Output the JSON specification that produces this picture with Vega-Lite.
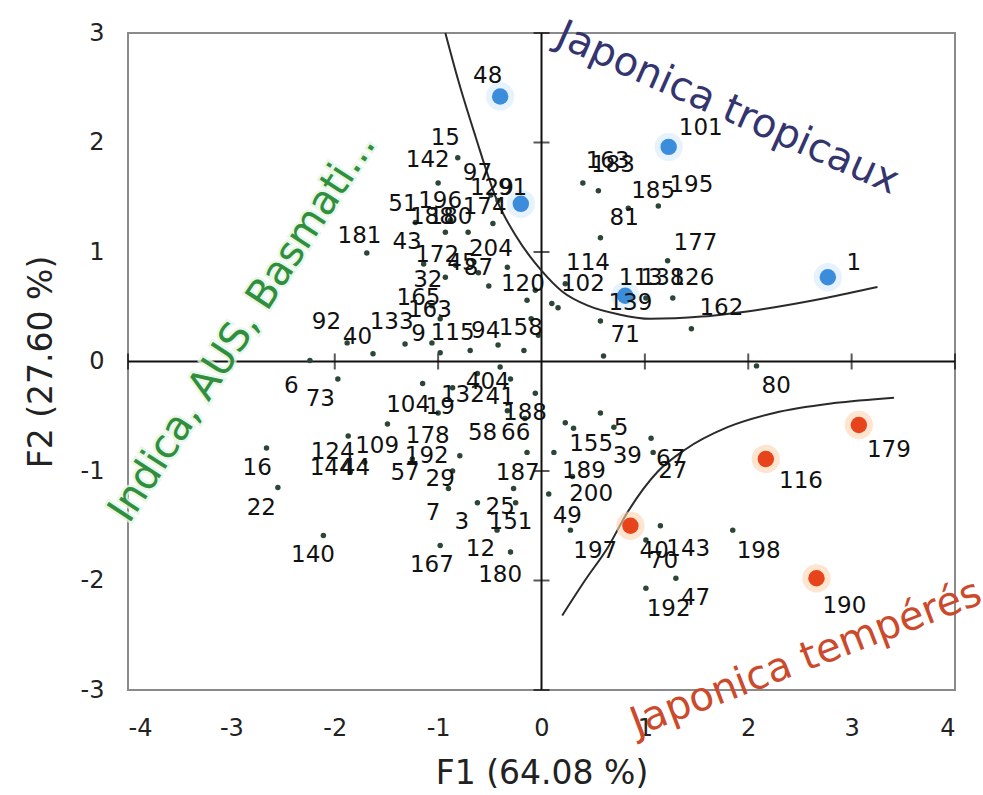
{
  "$schema": "https://vega.github.io/schema/vega-lite/v6.json",
  "autosize": {"type": "none"},
  "width": 827,
  "height": 657,
  "padding": {"left": 128, "top": 33, "right": 28, "bottom": 105},
  "background": "white",
  "config": {
    "view": {"stroke": "#8a8a8a", "strokeWidth": 2},
    "text": {"font": "DejaVu Sans"}
  },
  "datasets": {
    "axes": [
      {"x": -4, "x2": 4, "y": 0, "y2": 0},
      {"x": 0, "x2": 0, "y": -3, "y2": 3}
    ],
    "xt": [{"x": -4, "y": 0}, {"x": -3, "y": 0}, {"x": -2, "y": 0}, {"x": -1, "y": 0}, {"x": 1, "y": 0}, {"x": 2, "y": 0}, {"x": 3, "y": 0}, {"x": 4, "y": 0}],
    "yt": [{"x": 0, "y": -3}, {"x": 0, "y": -2}, {"x": 0, "y": -1}, {"x": 0, "y": 1}, {"x": 0, "y": 2}, {"x": 0, "y": 3}],
    "curves": [
      {"c": "a", "k": 1, "x": -0.93, "y": 3.0},
      {"c": "a", "k": 2, "x": -0.80, "y": 2.55},
      {"c": "a", "k": 3, "x": -0.64, "y": 2.06},
      {"c": "a", "k": 4, "x": -0.43, "y": 1.47},
      {"c": "a", "k": 5, "x": -0.25, "y": 1.15},
      {"c": "a", "k": 6, "x": 0.0, "y": 0.83},
      {"c": "a", "k": 7, "x": 0.20, "y": 0.64},
      {"c": "a", "k": 8, "x": 0.45, "y": 0.51},
      {"c": "a", "k": 9, "x": 0.75, "y": 0.43},
      {"c": "a", "k": 10, "x": 1.05, "y": 0.39},
      {"c": "a", "k": 11, "x": 1.55, "y": 0.41},
      {"c": "a", "k": 12, "x": 2.15, "y": 0.48},
      {"c": "a", "k": 13, "x": 2.75, "y": 0.58},
      {"c": "a", "k": 14, "x": 3.25, "y": 0.68},
      {"c": "b", "k": 1, "x": 0.20, "y": -2.32},
      {"c": "b", "k": 2, "x": 0.42, "y": -2.0},
      {"c": "b", "k": 3, "x": 0.64, "y": -1.70},
      {"c": "b", "k": 4, "x": 0.83, "y": -1.38},
      {"c": "b", "k": 5, "x": 1.13, "y": -1.00},
      {"c": "b", "k": 6, "x": 1.38, "y": -0.81},
      {"c": "b", "k": 7, "x": 1.80, "y": -0.60},
      {"c": "b", "k": 8, "x": 2.25, "y": -0.47},
      {"c": "b", "k": 9, "x": 2.83, "y": -0.38},
      {"c": "b", "k": 10, "x": 3.41, "y": -0.33}
    ],
    "pts": [
      {"id": "15", "x": -0.81, "y": 1.86, "lx": -0.93, "ly": 2.04, "g": "o"},
      {"id": "142", "x": -1.00, "y": 1.63, "lx": -1.10, "ly": 1.84, "g": "o"},
      {"id": "97", "x": -0.49, "y": 1.52, "lx": -0.62, "ly": 1.72, "g": "o"},
      {"id": "129", "x": -0.42, "y": 1.47, "lx": -0.48, "ly": 1.58, "g": "o"},
      {"id": "91", "x": -0.20, "y": 1.44, "lx": -0.28, "ly": 1.58, "g": "b"},
      {"id": "51", "x": -1.22, "y": 1.27, "lx": -1.34, "ly": 1.44, "g": "o"},
      {"id": "196", "x": -0.88, "y": 1.29, "lx": -0.98, "ly": 1.47, "g": "o"},
      {"id": "188", "x": -0.93, "y": 1.18, "lx": -1.06, "ly": 1.32, "g": "o"},
      {"id": "180", "x": -0.71, "y": 1.18, "lx": -0.88, "ly": 1.32, "g": "o"},
      {"id": "174", "x": -0.47, "y": 1.26, "lx": -0.55, "ly": 1.41, "g": "o"},
      {"id": "181", "x": -1.69, "y": 0.99, "lx": -1.76, "ly": 1.15, "g": "o"},
      {"id": "43", "x": -1.14, "y": 0.89, "lx": -1.30, "ly": 1.09, "g": "o"},
      {"id": "172", "x": -0.83, "y": 0.88, "lx": -1.01, "ly": 0.97, "g": "o"},
      {"id": "45", "x": -0.61, "y": 0.81, "lx": -0.77, "ly": 0.90, "g": "o"},
      {"id": "204", "x": -0.33, "y": 0.86, "lx": -0.49, "ly": 1.03, "g": "o"},
      {"id": "87", "x": -0.51, "y": 0.69, "lx": -0.61, "ly": 0.85, "g": "o"},
      {"id": "32", "x": -0.93, "y": 0.77, "lx": -1.10, "ly": 0.74, "g": "o"},
      {"id": "120", "x": -0.14, "y": 0.56, "lx": -0.18, "ly": 0.71, "g": "o"},
      {"id": "165", "x": -1.06, "y": 0.51, "lx": -1.19, "ly": 0.58, "g": "o"},
      {"id": "163", "x": -0.98, "y": 0.39, "lx": -1.08, "ly": 0.47, "g": "o"},
      {"id": "92", "x": -1.88, "y": 0.17, "lx": -2.08, "ly": 0.36, "g": "o"},
      {"id": "40", "x": -1.63, "y": 0.07, "lx": -1.78, "ly": 0.22, "g": "o"},
      {"id": "133", "x": -1.32, "y": 0.16, "lx": -1.45, "ly": 0.36, "g": "o"},
      {"id": "9", "x": -1.06, "y": 0.17, "lx": -1.19, "ly": 0.25, "g": "o"},
      {"id": "115", "x": -0.69, "y": 0.10, "lx": -0.86, "ly": 0.26, "g": "o"},
      {"id": "94", "x": -0.42, "y": 0.15, "lx": -0.54, "ly": 0.28, "g": "o"},
      {"id": "158", "x": -0.17, "y": 0.10, "lx": -0.20, "ly": 0.31, "g": "o"},
      {"id": "", "x": -0.98, "y": 0.08, "lx": -0.98, "ly": 0.08, "g": "o"},
      {"id": "", "x": -0.10, "y": 0.39, "lx": -0.10, "ly": 0.39, "g": "o"},
      {"id": "", "x": -0.03, "y": 0.24, "lx": -0.03, "ly": 0.24, "g": "o"},
      {"id": "", "x": 0.10, "y": 0.53, "lx": 0.10, "ly": 0.53, "g": "o"},
      {"id": "", "x": -0.06, "y": 0.65, "lx": -0.06, "ly": 0.65, "g": "o"},
      {"id": "6", "x": -2.24, "y": 0.01, "lx": -2.42, "ly": -0.22, "g": "o"},
      {"id": "73", "x": -1.97, "y": -0.16, "lx": -2.14, "ly": -0.34, "g": "o"},
      {"id": "16", "x": -2.66, "y": -0.79, "lx": -2.75, "ly": -0.97, "g": "o"},
      {"id": "22", "x": -2.55, "y": -1.15, "lx": -2.71, "ly": -1.34, "g": "o"},
      {"id": "140", "x": -2.11, "y": -1.59, "lx": -2.21, "ly": -1.77, "g": "o"},
      {"id": "124", "x": -1.87, "y": -0.68, "lx": -2.02, "ly": -0.83, "g": "o"},
      {"id": "144", "x": -1.85, "y": -1.01, "lx": -2.03, "ly": -0.97, "g": "o"},
      {"id": "44", "x": -1.71, "y": -0.92, "lx": -1.80, "ly": -0.97, "g": "o"},
      {"id": "109", "x": -1.49, "y": -0.57, "lx": -1.59, "ly": -0.77, "g": "o"},
      {"id": "104", "x": -1.15, "y": -0.20, "lx": -1.29, "ly": -0.40, "g": "o"},
      {"id": "19", "x": -0.86, "y": -0.24, "lx": -0.98, "ly": -0.42, "g": "o"},
      {"id": "132", "x": -0.62, "y": -0.11, "lx": -0.76, "ly": -0.31, "g": "o"},
      {"id": "404", "x": -0.40, "y": -0.05, "lx": -0.52, "ly": -0.19, "g": "o"},
      {"id": "41", "x": -0.30, "y": -0.16, "lx": -0.40, "ly": -0.32, "g": "o"},
      {"id": "188", "x": -0.06, "y": -0.29, "lx": -0.16, "ly": -0.47, "g": "o"},
      {"id": "178", "x": -1.00, "y": -0.47, "lx": -1.10, "ly": -0.68, "g": "o"},
      {"id": "58", "x": -0.33, "y": -0.45, "lx": -0.57, "ly": -0.65, "g": "o"},
      {"id": "66", "x": -0.16, "y": -0.52, "lx": -0.25, "ly": -0.65, "g": "o"},
      {"id": "192", "x": -0.79, "y": -0.86, "lx": -1.11, "ly": -0.86, "g": "o"},
      {"id": "57", "x": -1.25, "y": -0.89, "lx": -1.32, "ly": -1.02, "g": "o"},
      {"id": "29", "x": -0.86, "y": -1.00, "lx": -0.98, "ly": -1.07, "g": "o"},
      {"id": "187", "x": -0.14, "y": -0.83, "lx": -0.23, "ly": -1.02, "g": "o"},
      {"id": "7", "x": -0.90, "y": -1.16, "lx": -1.05, "ly": -1.38, "g": "o"},
      {"id": "3", "x": -0.62, "y": -1.29, "lx": -0.77, "ly": -1.47, "g": "o"},
      {"id": "25", "x": -0.27, "y": -1.16, "lx": -0.40, "ly": -1.33, "g": "o"},
      {"id": "151", "x": -0.25, "y": -1.29, "lx": -0.30, "ly": -1.47, "g": "o"},
      {"id": "12", "x": -0.43, "y": -1.54, "lx": -0.59, "ly": -1.71, "g": "o"},
      {"id": "180", "x": -0.30, "y": -1.74, "lx": -0.40, "ly": -1.95, "g": "o"},
      {"id": "167", "x": -0.98, "y": -1.68, "lx": -1.06, "ly": -1.86, "g": "o"},
      {"id": "189", "x": 0.12, "y": -0.83, "lx": 0.41, "ly": -1.00, "g": "o"},
      {"id": "200", "x": 0.30, "y": -1.05, "lx": 0.48, "ly": -1.21, "g": "o"},
      {"id": "49", "x": 0.07, "y": -1.21, "lx": 0.25, "ly": -1.41, "g": "o"},
      {"id": "197", "x": 0.28, "y": -1.54, "lx": 0.52, "ly": -1.73, "g": "o"},
      {"id": "155", "x": 0.31, "y": -0.61, "lx": 0.48, "ly": -0.75, "g": "o"},
      {"id": "5", "x": 0.57, "y": -0.47, "lx": 0.77, "ly": -0.61, "g": "o"},
      {"id": "39", "x": 0.70, "y": -0.60, "lx": 0.83, "ly": -0.86, "g": "o"},
      {"id": "67", "x": 1.06, "y": -0.70, "lx": 1.25, "ly": -0.89, "g": "o"},
      {"id": "27", "x": 1.08, "y": -0.83, "lx": 1.27, "ly": -1.00, "g": "o"},
      {"id": "", "x": 0.23, "y": -0.56, "lx": 0.23, "ly": -0.56, "g": "o"},
      {"id": "40", "x": 0.86, "y": -1.50, "lx": 1.09, "ly": -1.73, "g": "r"},
      {"id": "143", "x": 1.15, "y": -1.50, "lx": 1.42, "ly": -1.71, "g": "o"},
      {"id": "70", "x": 1.01, "y": -1.63, "lx": 1.18, "ly": -1.82, "g": "o"},
      {"id": "198", "x": 1.85, "y": -1.54, "lx": 2.10, "ly": -1.73, "g": "o"},
      {"id": "47", "x": 1.30, "y": -1.98, "lx": 1.49, "ly": -2.16, "g": "o"},
      {"id": "192", "x": 1.01, "y": -2.07, "lx": 1.23, "ly": -2.26, "g": "o"},
      {"id": "179", "x": 3.07, "y": -0.58, "lx": 3.36, "ly": -0.81, "g": "r"},
      {"id": "116", "x": 2.17, "y": -0.89, "lx": 2.51, "ly": -1.09, "g": "r"},
      {"id": "190", "x": 2.66, "y": -1.98, "lx": 2.93, "ly": -2.23, "g": "r"},
      {"id": "80", "x": 2.08, "y": -0.04, "lx": 2.27, "ly": -0.22, "g": "o"},
      {"id": "163", "x": 0.40, "y": 1.63, "lx": 0.64, "ly": 1.83, "g": "o"},
      {"id": "183", "x": 0.55, "y": 1.56, "lx": 0.69, "ly": 1.79, "g": "o"},
      {"id": "185", "x": 0.84, "y": 1.40, "lx": 1.08, "ly": 1.56, "g": "o"},
      {"id": "195", "x": 1.13, "y": 1.42, "lx": 1.45, "ly": 1.61, "g": "o"},
      {"id": "81", "x": 0.57, "y": 1.13, "lx": 0.80, "ly": 1.31, "g": "o"},
      {"id": "177", "x": 1.22, "y": 0.92, "lx": 1.49, "ly": 1.08, "g": "o"},
      {"id": "114", "x": 0.23, "y": 0.71, "lx": 0.45, "ly": 0.90, "g": "o"},
      {"id": "102", "x": 0.16, "y": 0.49, "lx": 0.40, "ly": 0.71, "g": "o"},
      {"id": "113", "x": 0.81, "y": 0.60, "lx": 0.96, "ly": 0.76, "g": "b"},
      {"id": "138", "x": 1.01, "y": 0.58, "lx": 1.17, "ly": 0.76, "g": "o"},
      {"id": "126", "x": 1.27, "y": 0.58, "lx": 1.46, "ly": 0.76, "g": "o"},
      {"id": "139", "x": 0.57, "y": 0.37, "lx": 0.86, "ly": 0.53, "g": "o"},
      {"id": "71", "x": 0.60, "y": 0.05, "lx": 0.81, "ly": 0.24, "g": "o"},
      {"id": "162", "x": 1.45, "y": 0.30, "lx": 1.74, "ly": 0.49, "g": "o"},
      {"id": "1", "x": 2.77, "y": 0.77, "lx": 3.02, "ly": 0.90, "g": "b"},
      {"id": "101", "x": 1.23, "y": 1.96, "lx": 1.54, "ly": 2.13, "g": "b"},
      {"id": "48", "x": -0.40, "y": 2.42, "lx": -0.52, "ly": 2.61, "g": "b"}
    ],
    "groups": [
      {"t": "Japonica tropicaux", "x": 1.80, "y": 2.31, "a": 24, "c": "jt"},
      {"t": "Indica, AUS, Basmati...", "x": -2.89, "y": 0.31, "a": -57, "c": "ind"},
      {"t": "Japonica tempérés", "x": 2.56, "y": -2.71, "a": -21, "c": "jte"}
    ]
  },
  "encoding": {
    "x": {
      "field": "x", "type": "quantitative",
      "scale": {"domain": [-4, 4], "nice": false, "zero": false},
      "axis": {
        "values": [-4, -3, -2, -1, 0, 1, 2, 3, 4],
        "title": "F1 (64.08 %)",
        "grid": false, "domain": false, "ticks": false, "tickSize": 0,
        "labelPadding": 26, "labelFontSize": 24, "labelFont": "DejaVu Sans", "labelColor": "#222",
        "labelExpr": "datum.value < 0 ? '-' + abs(datum.value) : '' + datum.value",
        "titleFontSize": 33, "titleFont": "DejaVu Sans", "titleFontWeight": "normal", "titleColor": "#222", "titlePadding": 17
      }
    },
    "y": {
      "field": "y", "type": "quantitative",
      "scale": {"domain": [-3, 3], "nice": false, "zero": false},
      "axis": {
        "values": [-3, -2, -1, 0, 1, 2, 3],
        "title": "F2 (27.60 %)",
        "grid": false, "domain": false, "ticks": false, "tickSize": 0,
        "labelPadding": 24, "labelFontSize": 24, "labelFont": "DejaVu Sans", "labelColor": "#222",
        "labelExpr": "datum.value < 0 ? '-' + abs(datum.value) : '' + datum.value",
        "titleFontSize": 33, "titleFont": "DejaVu Sans", "titleFontWeight": "normal", "titleColor": "#222", "titlePadding": 22
      }
    }
  },
  "layer": [
    {
      "data": {"name": "axes"},
      "mark": {"type": "rule", "color": "#111", "strokeWidth": 2},
      "encoding": {"x2": {"field": "x2"}, "y2": {"field": "y2"}}
    },
    {
      "data": {"name": "xt"},
      "mark": {"type": "tick", "orient": "vertical", "color": "#111", "size": 16, "thickness": 2}
    },
    {
      "data": {"name": "yt"},
      "mark": {"type": "tick", "orient": "horizontal", "color": "#111", "size": 16, "thickness": 2}
    },
    {
      "data": {"name": "curves"},
      "mark": {"type": "line", "color": "#2a2a2a", "strokeWidth": 2, "interpolate": "monotone"},
      "encoding": {"detail": {"field": "c"}, "order": {"field": "k", "type": "quantitative"}}
    },
    {
      "data": {"name": "pts"},
      "transform": [{"filter": "datum.g == 'b'"}],
      "mark": {"type": "circle", "size": 800, "color": "#d6eafb", "opacity": 0.6}
    },
    {
      "data": {"name": "pts"},
      "transform": [{"filter": "datum.g == 'r'"}],
      "mark": {"type": "circle", "size": 800, "color": "#fbd3b0", "opacity": 0.6}
    },
    {
      "data": {"name": "pts"},
      "transform": [{"filter": "datum.g == 'o'"}],
      "mark": {"type": "circle", "size": 30, "color": "#2b4637", "opacity": 1}
    },
    {
      "data": {"name": "pts"},
      "transform": [{"filter": "datum.g == 'b'"}],
      "mark": {"type": "circle", "size": 270, "color": "#3b8ddc", "opacity": 1}
    },
    {
      "data": {"name": "pts"},
      "transform": [{"filter": "datum.g == 'r'"}],
      "mark": {"type": "circle", "size": 270, "color": "#e8441c", "opacity": 1}
    },
    {
      "data": {"name": "pts"},
      "mark": {"type": "text", "fontSize": 23, "color": "#111", "align": "center", "baseline": "middle"},
      "encoding": {
        "x": {"field": "lx", "type": "quantitative"},
        "y": {"field": "ly", "type": "quantitative"},
        "text": {"field": "id"}
      }
    },
    {
      "data": {"name": "groups"},
      "transform": [{"filter": "datum.c == 'jt'"}],
      "mark": {"type": "text", "fontSize": 40, "align": "center", "baseline": "middle", "color": "#34346e"},
      "encoding": {"text": {"field": "t"}, "angle": {"field": "a", "type": "quantitative", "scale": null}}
    },
    {
      "data": {"name": "groups"},
      "transform": [{"filter": "datum.c == 'ind'"}],
      "mark": {"type": "text", "fontSize": 40, "align": "center", "baseline": "middle", "color": "#2f8f3c", "stroke": "#e3f4e3", "strokeWidth": 5, "strokeOpacity": 0.8},
      "encoding": {"text": {"field": "t"}, "angle": {"field": "a", "type": "quantitative", "scale": null}}
    },
    {
      "data": {"name": "groups"},
      "transform": [{"filter": "datum.c == 'ind'"}],
      "mark": {"type": "text", "fontSize": 40, "align": "center", "baseline": "middle", "color": "#2f8f3c"},
      "encoding": {"text": {"field": "t"}, "angle": {"field": "a", "type": "quantitative", "scale": null}}
    },
    {
      "data": {"name": "groups"},
      "transform": [{"filter": "datum.c == 'jte'"}],
      "mark": {"type": "text", "fontSize": 40, "align": "center", "baseline": "middle", "color": "#cc4a2c"},
      "encoding": {"text": {"field": "t"}, "angle": {"field": "a", "type": "quantitative", "scale": null}}
    }
  ]
}
